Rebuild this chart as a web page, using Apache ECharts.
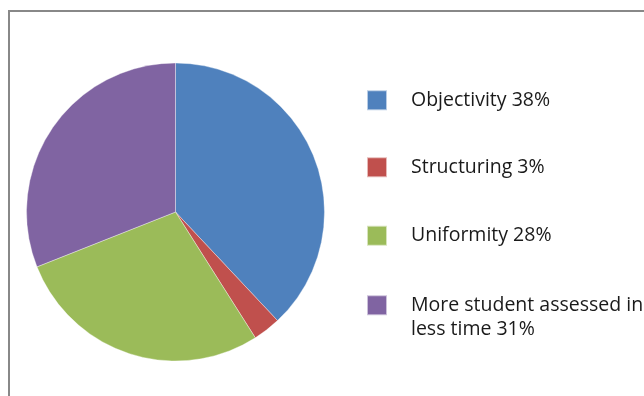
<!DOCTYPE html>
<html><head><meta charset="utf-8">
<style>html,body{margin:0;padding:0;background:#fff}#c{width:644px;height:396px}</style>
<script src="https://cdn.jsdelivr.net/npm/echarts@6/dist/echarts.min.js"></script>
</head><body><div id="c"></div>
<script>
const categories = ['Objectivity 38%', 'Structuring 3%', 'Uniformity 28%', 'More student assessed in\nless time 31%'];
const values = [38, 3, 28, 31];
const colors = ['#4F81BD', '#C0504D', '#9BBB59', '#8064A2'];
const legendTops = [88, 155, 223.5, 293];

const LH = 24.5;
const chart = echarts.init(document.getElementById('c'));
chart.setOption({
  animation: false,
  graphic: [{
    type: 'rect', shape: {x: 9, y: 11, width: 700, height: 500},
    style: {fill: 'none', stroke: '#888', lineWidth: 2}, silent: true, z: -1
  }],
  legend: categories.map((n, i) => {
    const multi = n.indexOf('\n') >= 0;
    return {
      orient: 'vertical',
      left: 366, top: legendTops[i], padding: 0,
      itemWidth: 20, itemHeight: multi ? 20 + LH : 20,
      icon: multi ? 'path://M0,0H20V20H0Z M0,' + (20 + LH) + 'L0.001,' + (20 + LH) : 'rect',
      selectedMode: false,
      textStyle: {
        fontFamily: 'Open Sans', fontSize: 19.5, color: '#1a1a1a',
        lineHeight: LH,
        padding: [0, 0, 0, 19]
      },
      data: [n]
    };
  }),
  series: [{
    type: 'pie',
    center: [175.5, 212],
    radius: [0, 149],
    startAngle: 90,
    clockwise: true,
    label: {show: false},
    labelLine: {show: false},
    itemStyle: {borderColor: 'rgba(255,255,255,0.6)', borderWidth: 0.6},
    data: categories.map((n, i) => ({name: n, value: values[i], itemStyle: {color: colors[i]}}))
  }]
});
</script></body></html>
